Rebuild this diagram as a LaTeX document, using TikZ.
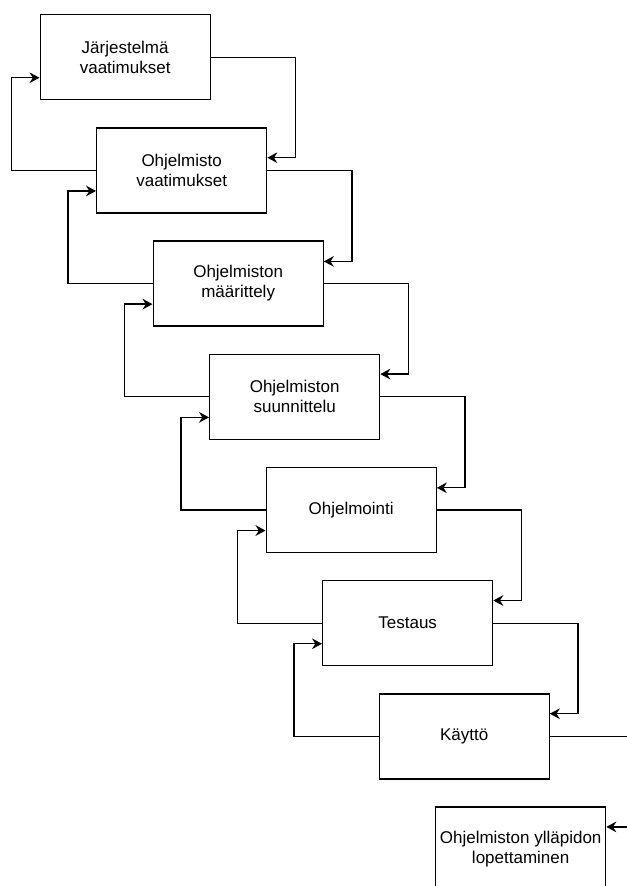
\documentclass[tikz,border=0pt]{standalone}
\usepackage{fontspec}
\setmainfont{Liberation Sans}
\usetikzlibrary{arrows.meta,calc}

\tikzset{
  phase/.style={draw=black, line width=1pt, fill=white, anchor=north west,
    minimum width=127.5pt, minimum height=63.75pt, inner sep=0pt,
    align=center, font=\fontsize{12.75pt}{15pt}\selectfont},
  flow/.style={draw=black, line width=1pt,
    -{Stealth[length=7.5pt, width=8pt, inset=2.5pt]}}
}

\begin{document}
\begin{tikzpicture}[x=0.75pt, y=-0.75pt]
  \useasboundingbox (0,0) rectangle (627,886);
  \clip (0,0) rectangle (627,886);

  % phases of the waterfall model
  \node[phase] (b1) at (39.5,14)    {Järjestelmä\\vaatimukset};
  \node[phase] (b2) at (96,127.2)   {Ohjelmisto\\vaatimukset};
  \node[phase] (b3) at (152.5,240.4) {Ohjelmiston\\määrittely};
  \node[phase] (b4) at (209,353.6)  {Ohjelmiston\\suunnittelu};
  \node[phase] (b5) at (265.5,466.8) {Ohjelmointi};
  \node[phase] (b6) at (322,580)    {Testaus};
  \node[phase] (b7) at (378.5,693.2) {Käyttö};
  \node[phase] (b8) at (435,806.4)  {Ohjelmiston ylläpidon\\lopettaminen};

  % forward flow, each phase into the next
  \draw[flow] (b1.east) -- ++(84.5,0) |- ($(b2.north east)+(0,30.5)$);
  \draw[flow] (b2.east) -- ++(84.5,0) |- ($(b3.north east)+(0,21)$);
  \draw[flow] (b3.east) -- ++(84.5,0) |- ($(b4.north east)+(0,20.5)$);
  \draw[flow] (b4.east) -- ++(84.5,0) |- ($(b5.north east)+(0,21)$);
  \draw[flow] (b5.east) -- ++(84.5,0) |- ($(b6.north east)+(0,20.5)$);
  \draw[flow] (b6.east) -- ++(84.5,0) |- ($(b7.north east)+(0,20.5)$);
  \draw[flow] (b7.east) -- ++(84.5,0) |- ($(b8.north east)+(0,20.5)$);

  % feedback, each phase back to the previous one
  \draw[flow] (b2.west) -- ++(-84.5,0) |- ($(b1.north west)+(0,63.75)$);
  \draw[flow] (b3.west) -- ++(-84.5,0) |- ($(b2.north west)+(0,63.75)$);
  \draw[flow] (b4.west) -- ++(-84.5,0) |- ($(b3.north west)+(0,63.75)$);
  \draw[flow] (b5.west) -- ++(-84.5,0) |- ($(b4.north west)+(0,63.75)$);
  \draw[flow] (b6.west) -- ++(-84.5,0) |- ($(b5.north west)+(0,63.75)$);
  \draw[flow] (b7.west) -- ++(-84.5,0) |- ($(b6.north west)+(0,63.75)$);
\end{tikzpicture}
\end{document}
